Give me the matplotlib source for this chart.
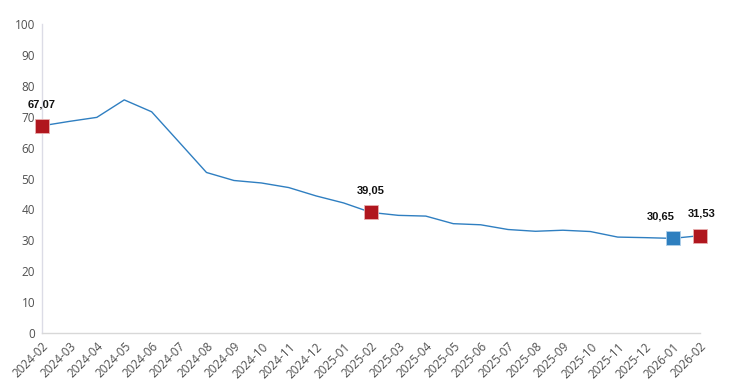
import matplotlib
matplotlib.use("Agg")
import matplotlib.pyplot as plt

months = ["2024-02","2024-03","2024-04","2024-05","2024-06","2024-07","2024-08","2024-09",
          "2024-10","2024-11","2024-12","2025-01","2025-02","2025-03","2025-04","2025-05",
          "2025-06","2025-07","2025-08","2025-09","2025-10","2025-11","2025-12","2026-01","2026-02"]
values = [67.07, 68.5, 69.8, 75.45, 71.6, 61.8, 51.97, 49.38,
          48.58, 47.09, 44.38, 42.12, 39.05, 38.1, 37.86, 35.41,
          35.05, 33.52, 32.95, 33.29, 32.87, 31.07, 30.89, 30.65, 31.53]
highlight_red = [0, 12, 24]
highlight_blue = [23]

line_color = "#2f7fc1"
red = "#b0161e"
blue = "#2e7fbf"

fig = plt.figure(figsize=(7.29, 3.91), dpi=100)
ax = fig.add_axes([0.0576, 0.148, 0.9026, 0.7906])
x = list(range(len(months)))
ax.plot(x, values, color=line_color, lw=1.0, zorder=2)
for i in highlight_red:
    ax.plot(x[i], values[i], marker="s", ms=9.5, color=red, mec="#e8b0b0", mew=0.6,
            clip_on=False, zorder=3)
for i in highlight_blue:
    ax.plot(x[i], values[i], marker="s", ms=9.5, color=blue, mec="#b0d0ea", mew=0.6,
            clip_on=False, zorder=3)

def fmt(v):
    return f"{v:.2f}".replace(".", ",")

label_dx = {0: 0, 12: 0, 23: -0.45, 24: 0.05}
for i in highlight_red + highlight_blue:
    ax.annotate(fmt(values[i]), (x[i] + label_dx[i], values[i]), xytext=(0, 12),
                textcoords="offset points", ha="center", va="bottom",
                fontsize=8, fontweight="bold", color="#111111", family="Liberation Sans",
                annotation_clip=False)

ax.set_xlim(0, len(months) - 1)
ax.set_ylim(0, 100)
ax.set_yticks(range(0, 101, 10))
ax.set_xticks(x)
ax.set_xticklabels(months, rotation=45, ha="right", rotation_mode="anchor")
ax.tick_params(axis="both", length=0, labelsize=8.5, labelcolor="#505050", pad=5)
for lab in ax.get_xticklabels() + ax.get_yticklabels():
    lab.set_family("Open Sans")
for s in ["top", "right"]:
    ax.spines[s].set_visible(False)
ax.spines["left"].set_color("#dcdce6")
ax.spines["bottom"].set_color("#d8d8d8")
ax.spines["left"].set_linewidth(1.0)
ax.spines["bottom"].set_linewidth(1.0)

fig.savefig("out.png", dpi=100)
